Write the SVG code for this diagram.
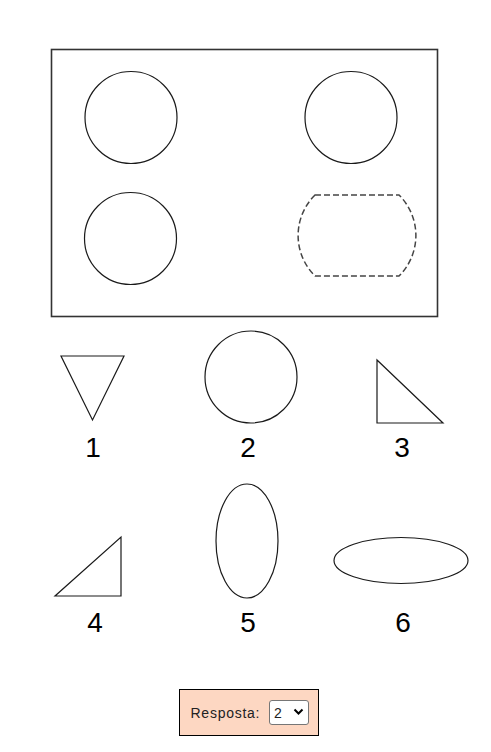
<svg xmlns="http://www.w3.org/2000/svg" width="491" height="752" viewBox="0 0 491 752">
<style>
.ln{fill:none;stroke:#1a1a1a;stroke-width:1.2}
.dash{fill:none;stroke:#444;stroke-width:1.5;stroke-dasharray:6 3}
.num{font-family:"Liberation Sans",Arial,sans-serif;font-size:28px;fill:#000;text-anchor:middle}
.lbl{font-family:"Liberation Sans",Arial,sans-serif;font-size:14px;fill:#222}
</style>
<rect width="491" height="752" fill="#fff"/>
<g id="frame">
<rect x="51.5" y="49.5" width="386" height="267" fill="none" stroke="#333" stroke-width="1.6"/>
<circle class="ln" cx="131" cy="117.5" r="46"/>
<circle class="ln" cx="351" cy="117.5" r="46"/>
<circle class="ln" cx="130.5" cy="238.5" r="46"/>
<path class="dash" d="M315,195 L399,195 A57,57 0 0 1 399,276 L315,276 A57,57 0 0 1 315,195 Z"/>
</g>
<g id="option1">
<polygon class="ln" points="61,356 124,356 92.5,420" stroke-width="1.5"/>
<text class="num" x="93" y="457">1</text>
</g>
<g id="option2">
<circle class="ln" cx="251" cy="377" r="46"/>
<text class="num" x="248" y="457">2</text>
</g>
<g id="option3">
<polygon class="ln" points="377,360 377,423 443,423" stroke-width="1.5"/>
<text class="num" x="402" y="457">3</text>
</g>
<g id="option4">
<polygon class="ln" points="55,596 121,596 121,537" stroke-width="1.4"/>
<text class="num" x="95" y="632">4</text>
</g>
<g id="option5">
<ellipse class="ln" cx="247" cy="541" rx="31" ry="57"/>
<text class="num" x="248" y="632">5</text>
</g>
<g id="option6">
<ellipse class="ln" cx="401" cy="560.5" rx="67" ry="23"/>
<text class="num" x="403" y="632">6</text>
</g>
<g id="answer">
<rect x="179.5" y="689.5" width="139" height="46" fill="#fdd7c2" stroke="#000" stroke-width="1"/>
<text class="lbl" x="190.5" y="718" textLength="69">Resposta:</text>
<rect x="269.5" y="700.5" width="39" height="24" rx="2.5" fill="#fff" stroke="#767676" stroke-width="1"/>
<text class="lbl" x="274" y="718" fill="#000">2</text>
<path d="M294.5,709.5 L298.5,713.5 L302.5,709.5" fill="none" stroke="#000" stroke-width="2"/>
</g>
</svg>
